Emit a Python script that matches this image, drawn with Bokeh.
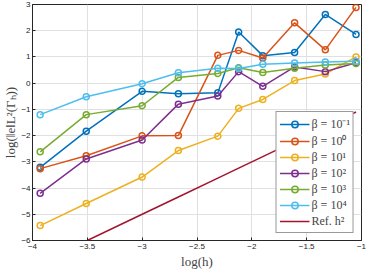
from bokeh.plotting import figure
from bokeh.models import Range1d, FixedTicker, Legend, LegendItem
from bokeh.embed import file_html
from bokeh.resources import INLINE

log_h = [-3.93, -3.51, -3.0, -2.67, -2.31, -2.12, -1.90, -1.61, -1.33, -1.05]
err_b_m1 = [-3.21, -1.83, -0.31, -0.40, -0.37, 1.95, 1.05, 1.17, 2.62, 1.86]
err_b_0 = [-3.26, -2.77, -2.01, -2.0, 1.06, 1.25, 0.96, 2.30, 1.27, 2.89]
err_b_1 = [-5.43, -4.59, -3.58, -2.57, -2.02, -0.96, -0.62, 0.10, 0.35, 1.0]
err_b_2 = [-4.20, -2.89, -2.17, -0.80, -0.49, 0.44, -0.12, 0.62, 0.44, 0.78]
err_b_3 = [-2.62, -1.20, -0.86, 0.22, 0.37, 0.59, 0.41, 0.57, 0.69, 0.75]
err_b_4 = [-1.20, -0.52, -0.02, 0.40, 0.57, 0.56, 0.72, 0.77, 0.81, 0.84]
ref_h2 = [-6.86, -6.02, -5.0, -4.34, -3.62, -3.24, -2.8, -2.22, -1.66, -1.1]

labels = ["β = 10⁻¹", "β = 10⁰", "β = 10¹", "β = 10²", "β = 10³", "β = 10⁴"]
colors = ["#0072BD", "#D95319", "#EDB120", "#7E2F8E", "#77AC30", "#4DBEEE"]
series = [err_b_m1, err_b_0, err_b_1, err_b_2, err_b_3, err_b_4]

p = figure(width=366, height=272, output_backend="svg", toolbar_location=None,
           x_range=Range1d(-4, -1), y_range=Range1d(-6, 3),
           min_border_left=4, min_border_right=5, min_border_top=4, min_border_bottom=32)

items = []
for ys, c, lab in zip(series, colors, labels):
    r1 = p.line(log_h, ys, line_color=c, line_width=1.5)
    r2 = p.scatter(log_h, ys, marker="circle", size=6, fill_color=None, line_color=c, line_width=1.5)
    items.append(LegendItem(label=lab, renderers=[r1, r2]))
rr = p.line(log_h, ref_h2, line_color="#A2142F", line_width=1.5)
items.append(LegendItem(label="Ref. h²", renderers=[rr]))

leg = Legend(items=items, location="bottom_right")
leg.label_text_font = "Liberation Serif"
leg.label_text_font_size = "12px"
leg.label_height = 16
leg.glyph_height = 16
leg.glyph_width = 30
leg.spacing = 0
leg.padding = 3
leg.margin = 7
leg.label_standoff = 2
leg.border_line_color = "#333333"
leg.border_line_width = 1
leg.background_fill_alpha = 1.0
p.add_layout(leg)

for ax in (p.xaxis[0], p.yaxis[0]):
    ax.major_label_text_font = "Liberation Sans"
    ax.major_label_text_font_size = "8px"
    ax.major_label_text_color = "#222222"
    ax.axis_label_text_font = "Liberation Serif"
    ax.axis_label_text_font_size = "13px"
    ax.axis_label_text_font_style = "normal"
    ax.major_tick_in = 3
    ax.major_tick_out = 0
    ax.minor_tick_line_color = None
    ax.axis_line_color = "#262626"
    ax.major_tick_line_color = "#262626"
    ax.major_label_standoff = 3
    ax.axis_label_standoff = 2

p.xaxis[0].ticker = FixedTicker(ticks=[-4, -3.5, -3, -2.5, -2, -1.5, -1])
p.yaxis[0].ticker = FixedTicker(ticks=[-6, -5, -4, -3, -2, -1, 0, 1, 2, 3])
p.xaxis[0].axis_label = "log(h)"
p.yaxis[0].axis_label = "log(‖e‖L²(Γₕ))"
p.yaxis[0].major_label_standoff = 2
p.yaxis[0].axis_label_standoff = 0

p.xgrid.grid_line_color = "#e0e0e0"
p.ygrid.grid_line_color = "#e0e0e0"
p.outline_line_color = "#262626"
p.outline_line_width = 1

open("out.html", "w").write(file_html(p, INLINE))
